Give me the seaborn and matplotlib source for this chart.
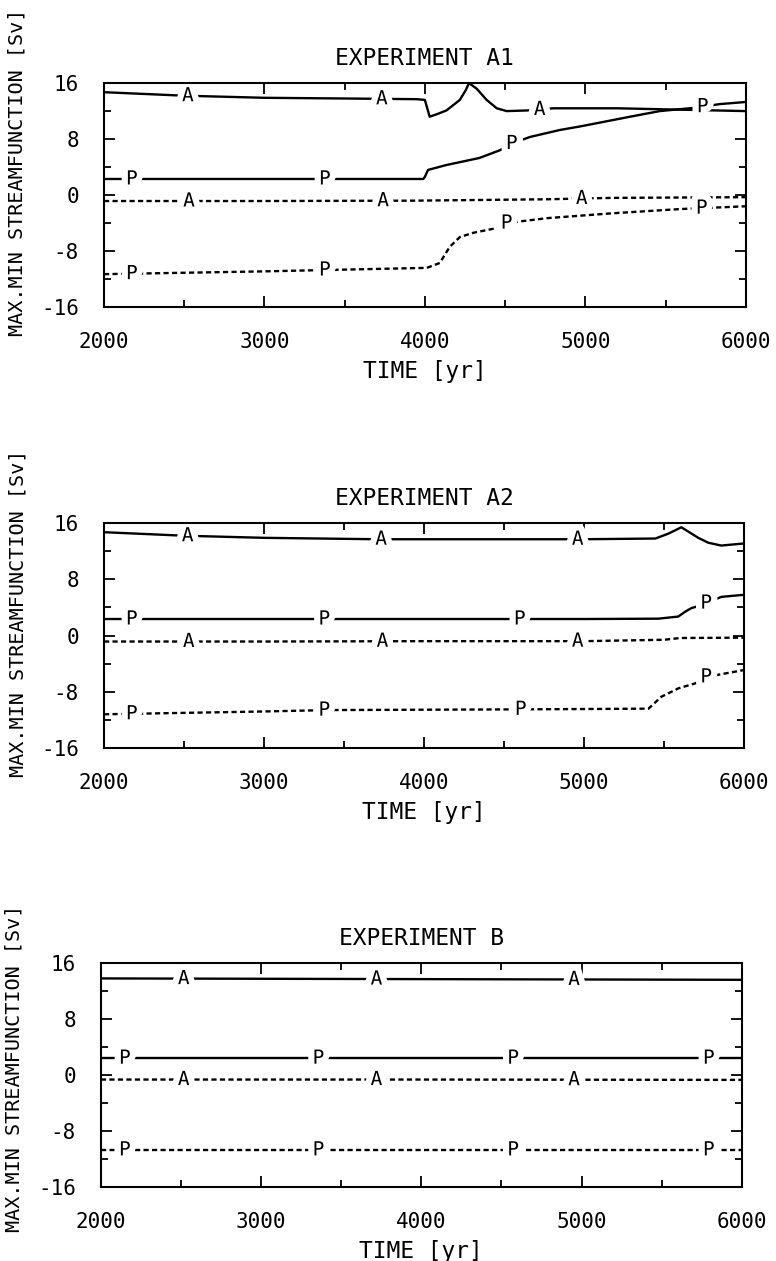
import numpy as np
import seaborn as sns
import matplotlib
matplotlib.use("Agg")
import matplotlib.pyplot as plt
import matplotlib.patheffects as pe
from matplotlib.ticker import MultipleLocator

sns.set_theme(style="ticks")
plt.rcParams['font.family'] = ['DejaVu Sans Mono', 'DejaVu Sans']
plt.rcParams['axes.unicode_minus'] = False
plt.rcParams['text.color'] = 'black'
plt.rcParams['axes.labelcolor'] = 'black'

# ---- data (time in yr, streamfunction in Sv) ----
# Experiment A1
a1_amax_t = [2000, 2500, 3000, 3500, 3950, 4000, 4030, 4080, 4135, 4218, 4255, 4275,
             4323, 4385, 4448, 4510, 4650, 4800, 5000, 5200, 5400, 5600, 5800, 6000]
a1_amax = [14.7, 14.2, 13.9, 13.8, 13.7, 13.6, 11.2, 11.6, 12.1, 13.6, 15.0, 16.0,
           15.2, 13.6, 12.4, 12.0, 12.1, 12.4, 12.4, 12.4, 12.3, 12.2, 12.1, 12.0]
a1_pmax_t = [2000, 3000, 3990, 4000, 4020, 4135, 4340, 4467, 4545, 4655, 4841, 4966,
             5280, 5464, 5695, 5838, 6000]
a1_pmax = [2.3, 2.3, 2.3, 2.6, 3.6, 4.3, 5.3, 6.4, 7.4, 8.3, 9.3, 9.8,
           11.2, 12.0, 12.5, 13.0, 13.3]
a1_amin_t = [2000, 3000, 3925, 4760, 5170, 6000]
a1_amin = [-0.85, -0.85, -0.8, -0.6, -0.4, -0.3]
a1_pmin_t = [2000, 2500, 3000, 3400, 4012, 4093, 4155, 4218, 4300, 4450, 4510, 4760,
             5170, 5590, 6000]
a1_pmin = [-11.3, -11.1, -10.9, -10.7, -10.4, -9.7, -7.4, -6.0, -5.4, -4.7, -4.0, -3.3,
           -2.6, -2.0, -1.6]

# Experiment A2
a2_amax_t = [2000, 2500, 3000, 3700, 3925, 5000, 5445, 5527, 5607, 5650, 5713, 5776,
             5857, 6000]
a2_amax = [14.7, 14.2, 13.9, 13.7, 13.7, 13.7, 13.8, 14.5, 15.4, 14.8, 13.9, 13.2,
           12.8, 13.1]
a2_pmax_t = [2000, 3000, 4000, 5000, 5464, 5588, 5632, 5670, 5730, 5857, 6000]
a2_pmax = [2.35, 2.35, 2.35, 2.35, 2.4, 2.7, 3.4, 3.9, 4.3, 5.5, 5.8]
a2_amin_t = [2000, 3000, 4000, 5000, 5500, 5600, 6000]
a2_amin = [-0.85, -0.85, -0.8, -0.8, -0.6, -0.35, -0.3]
a2_pmin_t = [2000, 2500, 3000, 3400, 4000, 4600, 5402, 5483, 5590, 5695, 5760, 6000]
a2_pmin = [-11.2, -11.0, -10.8, -10.6, -10.55, -10.5, -10.4, -8.7, -7.5, -6.8, -5.9, -4.9]

# Experiment B
b_amax_t = [2000, 4000, 6000]
b_amax = [13.8, 13.7, 13.6]
b_pmax_t = [2000, 4000, 6000]
b_pmax = [2.4, 2.4, 2.4]
b_amin_t = [2000, 4000, 6000]
b_amin = [-0.65, -0.65, -0.7]
b_pmin_t = [2000, 4000, 6000]
b_pmin = [-10.7, -10.7, -10.7]

# inline label years (A = Atlantic, P = Pacific)
a1_lab = {'amax': [2523, 3732, 4716], 'pmax': [2174, 3377, 4542, 5732],
          'amin': [2530, 3740, 4978], 'pmin': [2174, 3377, 4510, 5726]}
a2_lab = {'amax': [2523, 3732, 4960], 'pmax': [2174, 3377, 4598, 5763],
          'amin': [2530, 3740, 4960], 'pmin': [2174, 3377, 4604, 5763]}
b_lab = {'amax': [2517, 3720, 4953], 'pmax': [2150, 3358, 4573, 5794],
         'amin': [2517, 3720, 4953], 'pmin': [2150, 3358, 4573, 5794]}

panels = [
    ('EXPERIMENT A1', {'amax': (a1_amax_t, a1_amax), 'pmax': (a1_pmax_t, a1_pmax),
                       'amin': (a1_amin_t, a1_amin), 'pmin': (a1_pmin_t, a1_pmin)}, a1_lab),
    ('EXPERIMENT A2', {'amax': (a2_amax_t, a2_amax), 'pmax': (a2_pmax_t, a2_pmax),
                       'amin': (a2_amin_t, a2_amin), 'pmin': (a2_pmin_t, a2_pmin)}, a2_lab),
    ('EXPERIMENT B', {'amax': (b_amax_t, b_amax), 'pmax': (b_pmax_t, b_pmax),
                      'amin': (b_amin_t, b_amin), 'pmin': (b_pmin_t, b_pmin)}, b_lab),
]

# axes boxes in figure fractions [left, bottom, width, height]
boxes = [[0.134, 0.7565, 0.827, 0.1776],
         [0.134, 0.4068, 0.825, 0.1784],
         [0.130, 0.0587, 0.826, 0.1776]]
ylabel_y = [0.60, 0.60, 0.53]

gap = [pe.withStroke(linewidth=9, foreground='white')]

fig = plt.figure(figsize=(7.76, 12.61), dpi=100)
fig.patch.set_facecolor('white')

for (title, curves, labels), box, ly in zip(panels, boxes, ylabel_y):
    ax = fig.add_axes(box)
    for key, (t, v) in curves.items():
        dashed = key.endswith('min')
        sns.lineplot(x=t, y=v, ax=ax, color='black', linewidth=1.7,
                     estimator=None, sort=False)
        if dashed:
            ax.lines[-1].set_dashes((2.2, 1.4))
        letter = 'A' if key.startswith('a') else 'P'
        for lt in labels[key]:
            ax.text(lt, np.interp(lt, t, v), letter, fontsize=14, ha='center',
                    va='center', zorder=2.2, color='black', path_effects=gap)
    ax.set_xlim(2000, 6000)
    ax.set_ylim(-16, 16)
    ax.xaxis.set_major_locator(MultipleLocator(1000))
    ax.xaxis.set_minor_locator(MultipleLocator(500))
    ax.yaxis.set_major_locator(MultipleLocator(8))
    ax.yaxis.set_minor_locator(MultipleLocator(4))
    ax.tick_params(which='both', direction='in', top=True, right=True, width=1.3,
                   colors='black', labelsize=15)
    ax.tick_params(which='major', length=8, pad=18)
    ax.tick_params(which='minor', length=5)
    for s in ax.spines.values():
        s.set_linewidth(1.5)
        s.set_color('black')
    ax.set_title(title, fontsize=16.5, pad=13, color='black')
    ax.set_xlabel('TIME [yr]', fontsize=16.5, labelpad=6)
    ax.set_ylabel('MAX.MIN STREAMFUNCTION [Sv]', fontsize=14.5)
    ax.yaxis.set_label_coords(-0.12, ly)
    ax.set_facecolor('white')
    ax.grid(False)

fig.savefig('out.png', dpi=100, facecolor='white')
